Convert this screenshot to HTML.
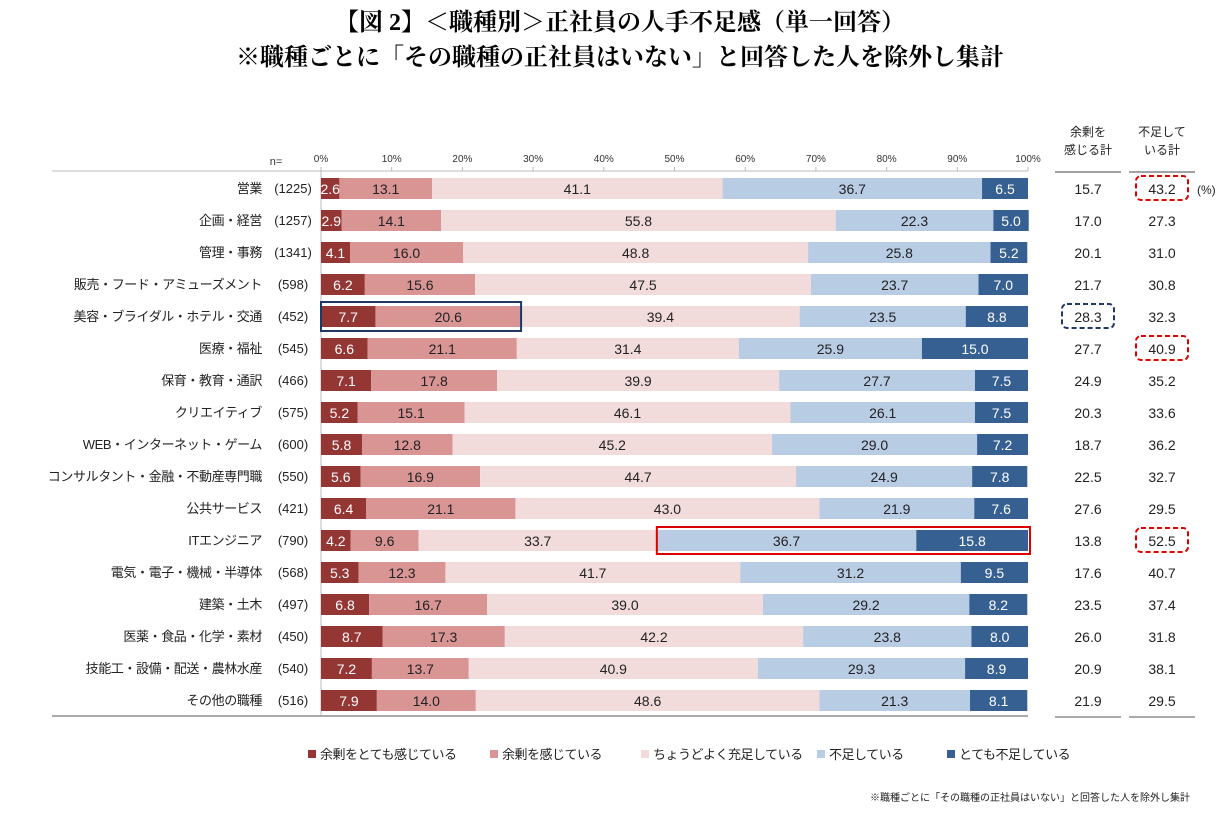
<!DOCTYPE html>
<html><head><meta charset="utf-8">
<style>
body{margin:0;background:#fff;width:1229px;height:820px;overflow:hidden;font-family:"Liberation Sans","Noto Sans CJK JP",sans-serif;}
svg text{font-family:"Liberation Sans","Noto Sans CJK JP",sans-serif;}
</style></head><body>
<svg id="c" width="1229" height="820">
<text x="620" y="30" text-anchor="middle" font-size="24" font-weight="bold" style="font-family:'Liberation Serif','Noto Serif CJK SC',serif">【図 2】＜職種別＞正社員の人手不足感（単一回答）</text>
<text x="620" y="65" text-anchor="middle" font-size="24" font-weight="bold" style="font-family:'Liberation Serif','Noto Serif CJK SC',serif">※職種ごとに「その職種の正社員はいない」と回答した人を除外し集計</text>
</svg>
<script>
const categories=["営業","企画・経営","管理・事務","販売・フード・アミューズメント","美容・ブライダル・ホテル・交通","医療・福祉","保育・教育・通訳","クリエイティブ","WEB・インターネット・ゲーム","コンサルタント・金融・不動産専門職","公共サービス","ITエンジニア","電気・電子・機械・半導体","建築・土木","医薬・食品・化学・素材","技能工・設備・配送・農林水産","その他の職種"];
const nValues=[1225,1257,1341,598,452,545,466,575,600,550,421,790,568,497,450,540,516];
const s1=[2.6,2.9,4.1,6.2,7.7,6.6,7.1,5.2,5.8,5.6,6.4,4.2,5.3,6.8,8.7,7.2,7.9];
const s2=[13.1,14.1,16.0,15.6,20.6,21.1,17.8,15.1,12.8,16.9,21.1,9.6,12.3,16.7,17.3,13.7,14.0];
const s3=[41.1,55.8,48.8,47.5,39.4,31.4,39.9,46.1,45.2,44.7,43.0,33.7,41.7,39.0,42.2,40.9,48.6];
const s4=[36.7,22.3,25.8,23.7,23.5,25.9,27.7,26.1,29.0,24.9,21.9,36.7,31.2,29.2,23.8,29.3,21.3];
const s5=[6.5,5.0,5.2,7.0,8.8,15.0,7.5,7.5,7.2,7.8,7.6,15.8,9.5,8.2,8.0,8.9,8.1];
const surplusTotal=[15.7,17.0,20.1,21.7,28.3,27.7,24.9,20.3,18.7,22.5,27.6,13.8,17.6,23.5,26.0,20.9,21.9];
const shortageTotal=[43.2,27.3,31.0,30.8,32.3,40.9,35.2,33.6,36.2,32.7,29.5,52.5,40.7,37.4,31.8,38.1,29.5];
const ticks=["0%","10%","20%","30%","40%","50%","60%","70%","80%","90%","100%"];
const legendLabels=["余剰をとても感じている","余剰を感じている","ちょうどよく充足している","不足している","とても不足している"];
const series=[s1,s2,s3,s4,s5];
const colors=["#943634","#d99594","#f2dcdb","#b8cce4","#366092"];
const txtColors=["#fff","#222","#222","#222","#fff"];
const svg=document.getElementById('c');
const NS="http://www.w3.org/2000/svg";
const X0=321,X1=1028;
const xs=v=>X0+(X1-X0)*v/100;
const ys=i=>188+32*i;
function mk(tag,attrs,txt){const e=document.createElementNS(NS,tag);for(const k in attrs)e.setAttribute(k,attrs[k]);if(txt!==undefined)e.textContent=txt;svg.appendChild(e);return e;}
let e=mk('line',{x1:X0,y1:171,x2:X1,y2:171,stroke:'#bbb'});


ticks.forEach((t,i)=>{const x=xs(i*10);
 let l=mk('line',{x1:x,y1:167,x2:x,y2:171,stroke:'#bbb'});
 
 
 let tx=mk('text',{x:x,y:162,'text-anchor':'middle','font-size':10,fill:'#333'},t);
 
 });
e=mk('text',{x:276,y:165,'text-anchor':'middle','font-size':11,fill:'#333'},"n=");


e=mk('line',{x1:X0,y1:171,x2:X0,y2:716,stroke:'#bbb'});


e=mk('line',{x1:52,y1:171,x2:X0,y2:171,stroke:'#bbb'});


e=mk('line',{x1:52,y1:716,x2:X1,y2:716,stroke:'#aaa','stroke-width':2});


[["余剰を","感じる計",1088],["不足して","いる計",1162]].forEach((h,k)=>{
 let a=mk('text',{x:h[2],y:136,'text-anchor':'middle','font-size':12,fill:'#222'},h[0]);
 
 
 let b=mk('text',{x:h[2],y:154,'text-anchor':'middle','font-size':12,fill:'#222'},h[1]);
 
 
 [172,717].forEach(y=>{let l=mk('line',{x1:h[2]-33,y1:y,x2:h[2]+33,y2:y,stroke:y>200?'#aaa':'#444','stroke-width':y>200?2:1});
 
 });
});
categories.forEach((c,i)=>{
 const y=ys(i);
 let t=mk('text',{x:262,y:y+5,'text-anchor':'end','font-size':13,fill:'#222','letter-spacing':'-0.4'},c);
 
 
 t=mk('text',{x:293,y:y+5,'text-anchor':'middle','font-size':13,fill:'#222'},"("+nValues[i]+")");
 
 
 let cum=0;
 series.forEach((s,k)=>{
  const v=s[i];const xa=xs(cum),xb=xs(cum+v);
  let r=mk('rect',{x:xa,y:y-10,width:xb-xa,height:21,fill:colors[k]});
  
  
  let tt=mk('text',{x:(xa+xb)/2,y:y+6,'text-anchor':'middle','font-size':14,fill:txtColors[k]},v.toFixed(1));
  
  
  cum+=v;});
 t=mk('text',{x:1088,y:y+6,'text-anchor':'middle','font-size':14,fill:'#222'},surplusTotal[i].toFixed(1));
 
 
 t=mk('text',{x:1162,y:y+6,'text-anchor':'middle','font-size':14,fill:'#222'},shortageTotal[i].toFixed(1));
 
 
});
e=mk('text',{x:1197,y:194,'font-size':12,fill:'#222'},"(%)");


e=mk('rect',{x:xs(0),y:ys(4)-14,width:xs(s1[4]+s2[4])-xs(0),height:29,fill:'none',stroke:'#1f3864','stroke-width':2});


e=mk('rect',{x:xs(100-s4[11]-s5[11]),y:ys(11)-13,width:xs(100)-xs(100-s4[11]-s5[11])+2,height:27,fill:'none',stroke:'#d00','stroke-width':2});


[[1162,0,'#d00'],[1162,5,'#d00'],[1162,11,'#d00'],[1088,4,'#1f3864']].forEach(d=>{
 let r=mk('rect',{x:d[0]-26,y:ys(d[1])-12,width:52,height:24,rx:5,fill:'none',stroke:d[2],'stroke-width':2,'stroke-dasharray':'5,3'});
 
 });
const lx=[308,490,641,817,947];
legendLabels.forEach((l,k)=>{
 let r=mk('rect',{x:lx[k],y:750,width:8,height:8,fill:colors[k]});
 
 
 let t=mk('text',{x:lx[k]+12,y:759,'font-size':13,fill:'#222','letter-spacing':'-0.5'},l);
 
 });
e=mk('text',{x:1190,y:801,'text-anchor':'end','font-size':10,fill:'#222'},"※職種ごとに「その職種の正社員はいない」と回答した人を除外し集計");


</script>
</body></html>
